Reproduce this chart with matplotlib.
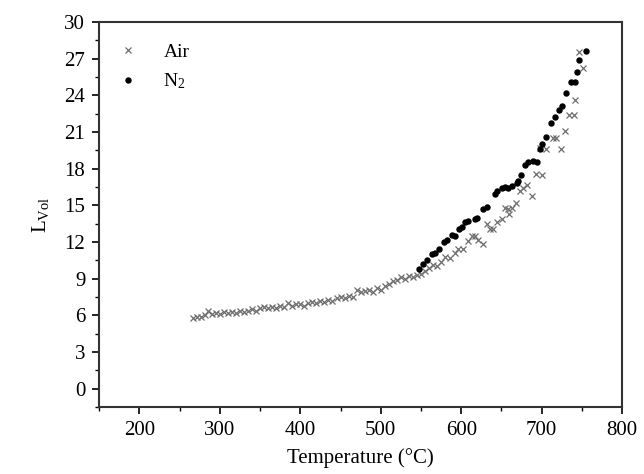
import matplotlib
matplotlib.use("Agg")
import matplotlib.pyplot as plt
from matplotlib.ticker import MultipleLocator

plt.rcParams["font.family"] = ["Liberation Serif", "DejaVu Serif"]
plt.rcParams["mathtext.fontset"] = "custom"
plt.rcParams["mathtext.rm"] = "Liberation Serif"
plt.rcParams["mathtext.it"] = "Liberation Serif"

# Air (crosses)
air_t = [267, 272, 277, 281, 285, 290, 295, 300, 305, 310, 315, 320, 325, 330,
         335, 340, 345, 350, 355, 360, 365, 370, 375, 380, 385, 390, 395, 400,
         405, 410, 415, 420, 425, 430, 435, 440, 445, 450, 455, 460, 465, 470,
         475, 480, 485, 490, 495, 500, 505, 510, 515, 520, 525, 530, 535, 540,
         545, 550, 555, 560, 565, 570, 575, 580, 586, 592, 596, 602, 608, 613,
         617, 621, 627, 632, 636, 640, 645, 651, 654, 658, 659, 663, 668, 673,
         677, 682, 688, 693, 698, 701, 706, 714, 718, 724, 729, 734, 740, 742,
         746, 752]
air_l = [5.8, 5.9, 5.9, 6.0, 6.4, 6.1, 6.2, 6.1, 6.3, 6.2, 6.3, 6.2, 6.4, 6.3,
         6.4, 6.5, 6.4, 6.6, 6.7, 6.6, 6.7, 6.6, 6.8, 6.7, 7.0, 6.8, 6.9, 6.9,
         6.8, 7.0, 7.1, 7.0, 7.2, 7.1, 7.3, 7.2, 7.4, 7.5, 7.4, 7.6, 7.5, 8.1,
         7.9, 8.0, 8.1, 7.9, 8.2, 8.1, 8.4, 8.6, 8.8, 8.9, 9.1, 9.0, 9.2, 9.1,
         9.3, 9.4, 9.6, 9.9, 10.1, 10.0, 10.4, 10.8, 10.7, 11.1, 11.4, 11.4, 12.1, 12.5,
         12.5, 12.2, 11.8, 13.5, 13.1, 13.1, 13.6, 13.9, 14.8, 14.7, 14.3, 14.8, 15.2, 16.2,
         16.4, 16.7, 15.8, 17.6, 19.7, 17.5, 19.6, 20.5, 20.5, 19.6, 21.1, 22.4, 22.4, 23.6,
         27.5, 26.2]

# N2 (dots)
n2_t = [548, 552, 557, 564, 567, 572, 579, 582, 588, 592, 597, 601, 605, 609,
        617, 620, 627, 632, 642, 644, 651, 654, 658, 663, 669, 670, 674, 679,
        683, 689, 694, 698, 701, 706, 711, 716, 721, 725, 730, 736, 741, 744,
        747, 755]
n2_l = [9.8, 10.2, 10.5, 11.0, 11.1, 11.4, 12.0, 12.2, 12.6, 12.5, 13.1, 13.2, 13.6, 13.7,
        13.9, 14.0, 14.7, 14.9, 15.9, 16.2, 16.4, 16.5, 16.4, 16.6, 16.8, 17.0, 17.5, 18.3,
        18.5, 18.6, 18.5, 19.6, 20.0, 20.6, 21.7, 22.2, 22.8, 23.1, 24.2, 25.1, 25.1, 25.9,
        26.9, 27.6]

fig = plt.figure(figsize=(6.44, 4.74), dpi=100)
ax = fig.add_axes([0.154, 0.141, 0.812, 0.813])

ax.plot(air_t, air_l, "x", color="#6e6e6e", ms=4, mew=0.9, label="Air")
ax.plot(n2_t, n2_l, "o", color="black", ms=3.6, mec="black", label="N$_{\\mathrm{2}}$")

ax.set_xlim(150, 800)
ax.set_ylim(-1.5, 30)
ax.xaxis.set_major_locator(MultipleLocator(100))
ax.xaxis.set_minor_locator(MultipleLocator(50))
ax.yaxis.set_major_locator(MultipleLocator(3))
ax.yaxis.set_minor_locator(MultipleLocator(1.5))
ax.tick_params(which="major", direction="out", length=5, width=1.2, labelsize=15, pad=5)
ax.tick_params(which="minor", direction="out", length=3, width=1.0)
for s in ax.spines.values():
    s.set_linewidth(1.5)
    s.set_color("#333333")

ax.set_xlabel("Temperature (°C)", fontsize=15, labelpad=6)
ax.set_ylabel("L$_{\\mathrm{Vol}}$", fontsize=15, labelpad=10)

ax.legend(loc="upper left", bbox_to_anchor=(0.0, 0.969), frameon=False, fontsize=14,
          handletextpad=0.8, borderaxespad=0.1, labelspacing=0.55)

fig.savefig("out.png", dpi=100)
